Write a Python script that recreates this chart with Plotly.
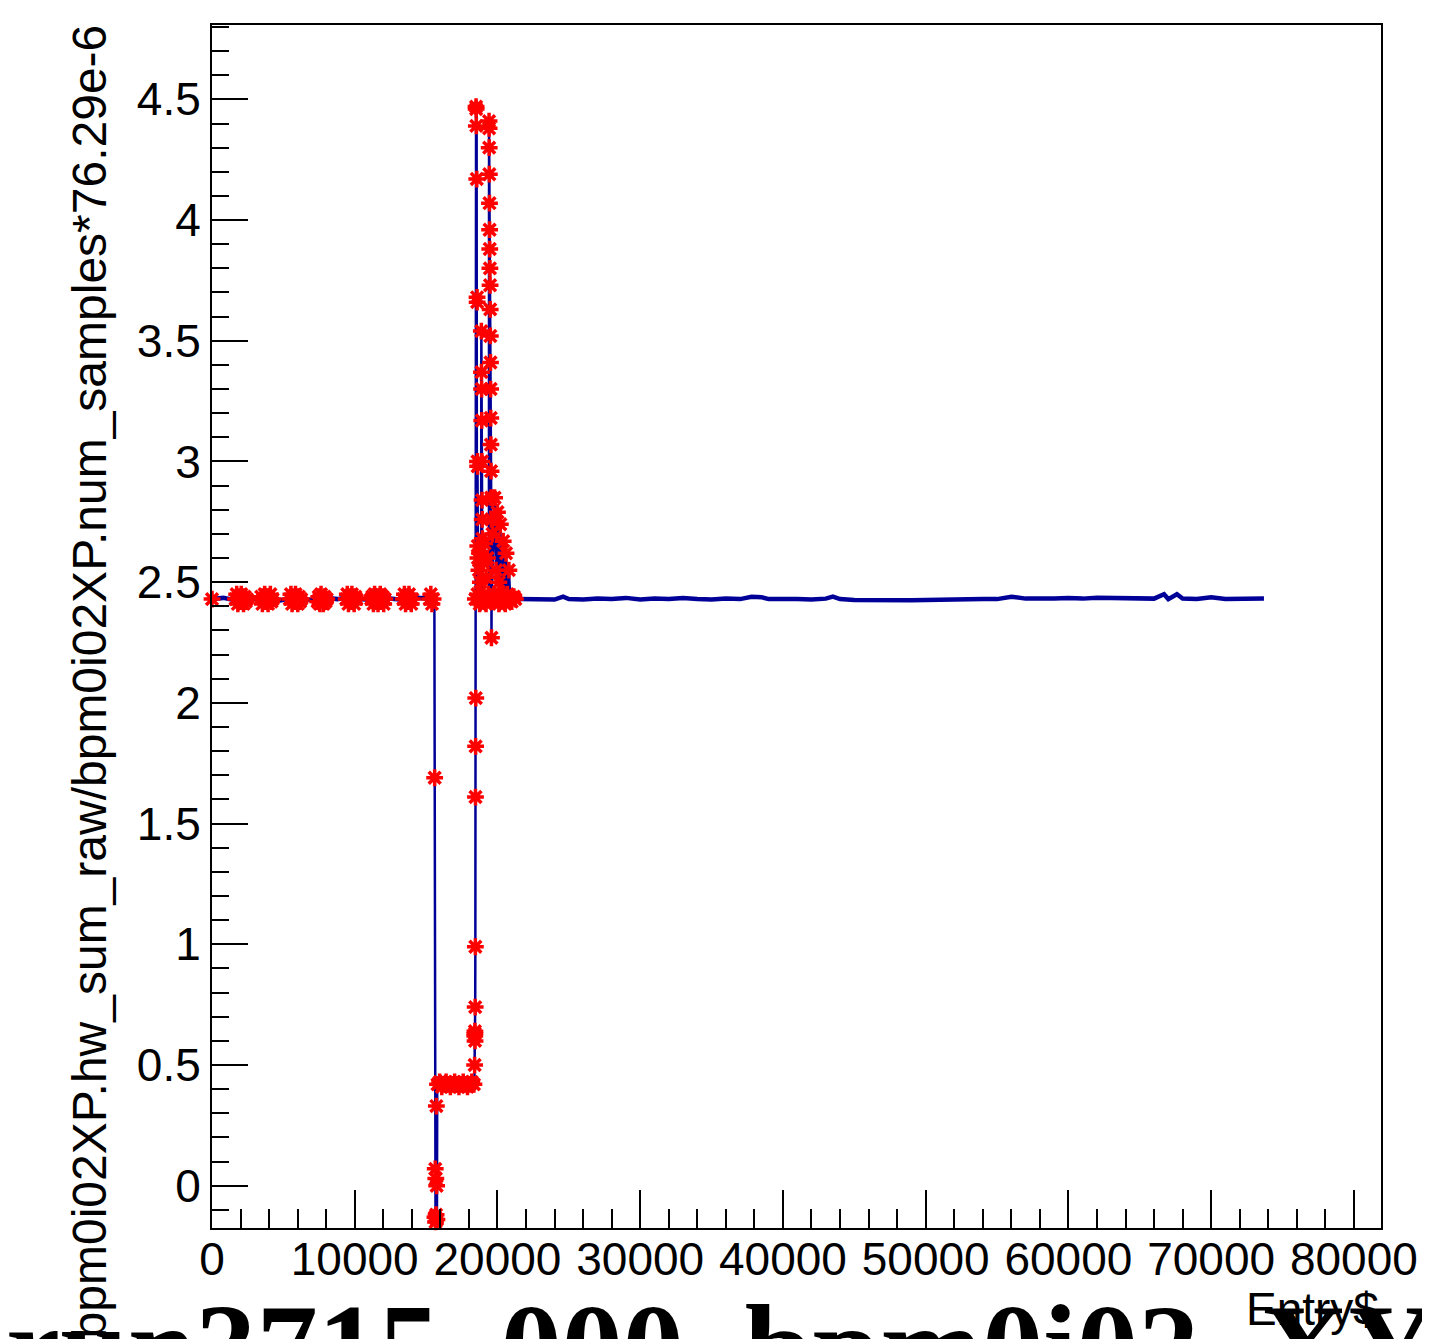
import plotly.graph_objects as go

# ---------------- data ----------------
# blue line, split in three runs: flat start, the excursion, flat end
left_x = [0, 800, 1600, 2400, 3200, 4000, 4800, 5600, 6400, 7200, 8000, 8800, 9600,
          10400, 11200, 12000, 12800, 13600, 14400, 15200, 15580]
left_y = [2.43, 2.435, 2.425, 2.435, 2.43, 2.44, 2.425, 2.435, 2.43, 2.425, 2.435, 2.43, 2.44,
          2.43, 2.425, 2.435, 2.43, 2.425, 2.435, 2.43, 2.43]

mid_x = [15580, 15600, 15620, 15640, 15660, 15680, 15700, 15720, 15740, 15760, 15780,
         16500, 17200, 17900, 18380,
         18400, 18410, 18420, 18430, 18440, 18450, 18460, 18470, 18480, 18490,
         18500, 18510, 18520, 18530, 18540, 18550, 18560, 18570, 18580, 18600, 18610, 18620, 18640,
         18850, 18870, 18880, 18890, 18900, 18910, 18920, 18930, 18940, 18950,
         19400, 19410, 19420, 19430, 19440, 19450, 19460, 19470, 19480, 19490, 19500,
         19510, 19520, 19530, 19540, 19550, 19560, 19570, 19580, 19590,
         19800, 19900, 20000, 20100, 20200, 20300, 20400, 20500, 20600, 20700, 20800, 20900,
         21500]
mid_y = [2.43, 1.69, -0.13, 0.07, -0.15, 0.03, -0.12, 0.33, 0.0, -0.14, 0.42,
         0.425, 0.415, 0.42, 0.42,
         0.50, 0.62, 0.64, 0.60, 0.74, 0.99, 1.61, 1.82, 2.02, 2.43,
         4.47, 2.43, 4.39, 2.45, 4.47, 4.17, 2.43, 3.68, 2.46, 3.0, 2.43, 2.65, 2.43,
         2.43, 3.54, 3.37, 3.30, 3.17, 3.0, 2.84, 2.76, 2.68, 2.43,
         2.43, 4.41, 4.30, 4.19, 4.07, 3.96, 3.88, 3.80, 3.73, 3.63, 3.52,
         3.41, 3.30, 3.18, 3.07, 2.96, 2.85, 2.76, 2.27, 2.43,
         2.85, 2.55, 2.79, 2.50, 2.74, 2.45, 2.67, 2.43, 2.62, 2.43, 2.55, 2.43,
         2.43]

right_x = [21500, 22000, 23000, 24000, 24600, 25000, 26000, 27000, 28000, 29000, 30000,
           31000, 32000, 33000, 34000, 35000, 36000, 37000, 37800, 38500, 39000, 40000,
           41000, 42000, 43000, 43500, 44000, 45000, 46000, 47000, 48000, 49000, 50000,
           51000, 52000, 53000, 54000, 55000, 56000, 57000, 58000, 59000, 60000, 61000,
           62000, 63000, 64000, 65000, 66000, 66700, 67000, 67600, 68000, 69000, 70000,
           71000, 72000, 73000, 73700]
right_y = [2.43, 2.43, 2.432, 2.428, 2.44, 2.43, 2.428, 2.432, 2.43, 2.435, 2.428,
           2.432, 2.43, 2.435, 2.43, 2.428, 2.432, 2.43, 2.44, 2.438, 2.43, 2.432,
           2.43, 2.428, 2.432, 2.44, 2.43, 2.426, 2.425, 2.424, 2.426, 2.425, 2.426,
           2.428, 2.43, 2.432, 2.43, 2.43, 2.44, 2.432, 2.43, 2.432, 2.435, 2.432,
           2.436, 2.435, 2.432, 2.43, 2.432, 2.45, 2.43, 2.45, 2.432, 2.43, 2.438,
           2.43, 2.432, 2.43, 2.432]

# red star markers (selected entries)
mark_x = [0,
          1650, 1730, 1810, 1890, 1970, 2050, 2130, 2210, 2290, 2370, 2450,
          3450, 3530, 3610, 3690, 3770, 3850, 3930, 4010, 4090, 4170, 4250,
          5450, 5530, 5610, 5690, 5770, 5850, 5930, 6010, 6090, 6170, 6250,
          7400, 7480, 7560, 7640, 7720, 7800, 7880, 7960, 8040,
          9400, 9480, 9560, 9640, 9720, 9800, 9880, 9960, 10040, 10120,
          11150, 11230, 11310, 11390, 11470, 11550, 11630, 11710, 11790, 11870, 11950, 12030, 12110,
          13400, 13480, 13560, 13640, 13720, 13800, 13880, 13960, 14040,
          15250, 15330, 15410, 15490,
          15600, 15620, 15640, 15660, 15680, 15700, 15720, 15740, 15760,
          15800, 15950, 16100, 16250, 16400, 16550, 16700, 16850, 17000, 17150,
          17300, 17450, 17600, 17750, 17900, 18050, 18200, 18350,
          18400, 18410, 18415, 18420, 18430, 18440, 18450, 18460, 18470, 18480,
          18500, 18505, 18520, 18550, 18570, 18575, 18600, 18610, 18620, 18630,
          18870, 18880, 18890, 18900, 18910, 18920, 18930, 18940,
          19410, 19415, 19420, 19430, 19440, 19450, 19460, 19470, 19480, 19490,
          19500, 19510, 19520, 19530, 19540, 19550, 19560, 19570, 19580,
          19800, 19900, 20000, 20100, 20200, 20300, 20400, 20600, 20800,
          18700, 18750, 18800, 19000, 19100, 19200, 19300, 19650,
          18450, 18600, 18750, 18900, 19050, 19200, 19350, 19500, 19650, 19800,
          19950, 20100, 20250, 20400, 20550, 20700, 20850, 21000, 21150, 21250]
mark_y = [2.43,
          2.43, 2.45, 2.41, 2.44, 2.42, 2.45, 2.43, 2.41, 2.44, 2.42, 2.43,
          2.44, 2.41, 2.43, 2.45, 2.42, 2.44, 2.41, 2.43, 2.45, 2.42, 2.43,
          2.43, 2.45, 2.41, 2.44, 2.42, 2.45, 2.43, 2.41, 2.44, 2.42, 2.43,
          2.42, 2.44, 2.41, 2.45, 2.43, 2.41, 2.44, 2.42, 2.43,
          2.43, 2.45, 2.41, 2.44, 2.42, 2.45, 2.43, 2.41, 2.44, 2.43,
          2.43, 2.44, 2.41, 2.45, 2.42, 2.44, 2.41, 2.43, 2.45, 2.42, 2.44, 2.41, 2.43,
          2.43, 2.45, 2.41, 2.44, 2.42, 2.45, 2.43, 2.41, 2.43,
          2.43, 2.45, 2.41, 2.43,
          1.69, -0.13, 0.07, -0.15, 0.03, -0.12, 0.33, 0.0, -0.14,
          0.42, 0.43, 0.41, 0.42, 0.43, 0.42, 0.41, 0.42, 0.43, 0.42,
          0.41, 0.42, 0.43, 0.42, 0.41, 0.42, 0.43, 0.42,
          0.50, 0.62, 0.63, 0.64, 0.60, 0.74, 0.99, 1.61, 1.82, 2.02,
          4.47, 4.46, 4.39, 4.17, 3.68, 3.66, 3.0, 2.98, 2.65, 2.60,
          3.54, 3.37, 3.30, 3.17, 3.0, 2.84, 2.76, 2.68,
          4.41, 4.38, 4.30, 4.19, 4.07, 3.96, 3.88, 3.80, 3.73, 3.63,
          3.52, 3.41, 3.30, 3.18, 3.07, 2.96, 2.85, 2.76, 2.27,
          2.85, 2.55, 2.79, 2.50, 2.74, 2.45, 2.67, 2.62, 2.55,
          2.55, 2.62, 2.50, 2.58, 2.66, 2.52, 2.60, 2.70,
          2.43, 2.45, 2.41, 2.44, 2.43, 2.41, 2.45, 2.43, 2.42, 2.45,
          2.43, 2.41, 2.44, 2.43, 2.41, 2.45, 2.43, 2.42, 2.44, 2.43]

x_ticks = [0, 10000, 20000, 30000, 40000, 50000, 60000, 70000, 80000]
y_ticks = [0, 0.5, 1, 1.5, 2, 2.5, 3, 3.5, 4, 4.5]

title_text = "run3715_000_bpm0i02_XY"
y_title = "bpm0i02XP.hw_sum_raw/bpm0i02XP.num_samples*76.29e-6"
x_title = "Entry$"

# ---------------- figure ----------------
# page is 1430x1339; the plot div starts 8 px in (default body margin)
OFF = 8
W, H = 1430 - OFF, 1339 - OFF
FL, FR, FT, FB = 212, 1385, 25, 1228          # frame in page pixels
L, R, T, B = FL - OFF, 1430 - FR, FT - OFF, 1339 - FB
pw, ph = FR - FL, FB - FT

BLUE = "#000099"
fig = go.Figure()
fig.add_trace(go.Scatter(x=left_x, y=left_y, mode="lines",
                         line=dict(color=BLUE, width=4.5), hoverinfo="skip"))
fig.add_trace(go.Scatter(x=mid_x, y=mid_y, mode="lines",
                         line=dict(color=BLUE, width=2.5), hoverinfo="skip"))
fig.add_trace(go.Scatter(x=right_x, y=right_y, mode="lines",
                         line=dict(color=BLUE, width=4.5), hoverinfo="skip"))
fig.add_trace(go.Scatter(x=mark_x, y=mark_y, mode="markers", cliponaxis=False,
                         marker=dict(symbol="asterisk-open", size=14,
                                     line=dict(color="#ff0000", width=3.5),
                                     color="#ff0000"), hoverinfo="skip"))

tickfont = dict(family="Liberation Sans, Arial, sans-serif", size=46, color="black")

fig.update_layout(
    width=W, height=H, showlegend=False,
    paper_bgcolor="white", plot_bgcolor="white",
    margin=dict(l=L, r=R, t=T, b=B, pad=0),
    xaxis=dict(range=[0, 81900], tickvals=x_ticks, ticktext=[str(v) for v in x_ticks],
               ticks="inside", ticklen=38, tickwidth=2, tickcolor="black",
               showline=True, linewidth=2, linecolor="black", mirror=True,
               showgrid=False, zeroline=False, tickfont=tickfont,
               ticklabelstandoff=-10,
               minor=dict(ticks="inside", dtick=2000, tick0=0, ticklen=19,
                          tickwidth=2, tickcolor="black", showgrid=False)),
    yaxis=dict(range=[-0.175, 4.808], tickvals=y_ticks,
               ticktext=[("%g" % v) for v in y_ticks],
               ticks="inside", ticklen=36, tickwidth=2, tickcolor="black",
               showline=True, linewidth=2, linecolor="black", mirror=True,
               showgrid=False, zeroline=False, tickfont=tickfont,
               minor=dict(ticks="inside", dtick=0.1, tick0=0, ticklen=17,
                          tickwidth=2, tickcolor="black", showgrid=False)),
)

def px_x(p):
    return (p - FL) / pw

def px_y(p):
    return (FB - p) / ph

fig.add_annotation(text=y_title, textangle=-90, showarrow=False,
                   xref="paper", yref="paper", x=px_x(90), y=px_y(681),
                   xanchor="center", yanchor="middle",
                   font=dict(family="Liberation Sans, Arial, sans-serif", size=48, color="black"))
fig.add_annotation(text=x_title, showarrow=False,
                   xref="paper", yref="paper", x=1.0, y=px_y(1309),
                   xanchor="right", yanchor="middle",
                   font=dict(family="Liberation Sans, Arial, sans-serif", size=46, color="black"))
fig.add_annotation(text="<b>" + title_text + "</b>", showarrow=False,
                   xref="paper", yref="paper", x=px_x(3), y=px_y(1278),
                   xanchor="left", yanchor="top",
                   font=dict(family="Liberation Serif, Times New Roman, serif", size=122, color="black"))

fig.write_html("out.html")
